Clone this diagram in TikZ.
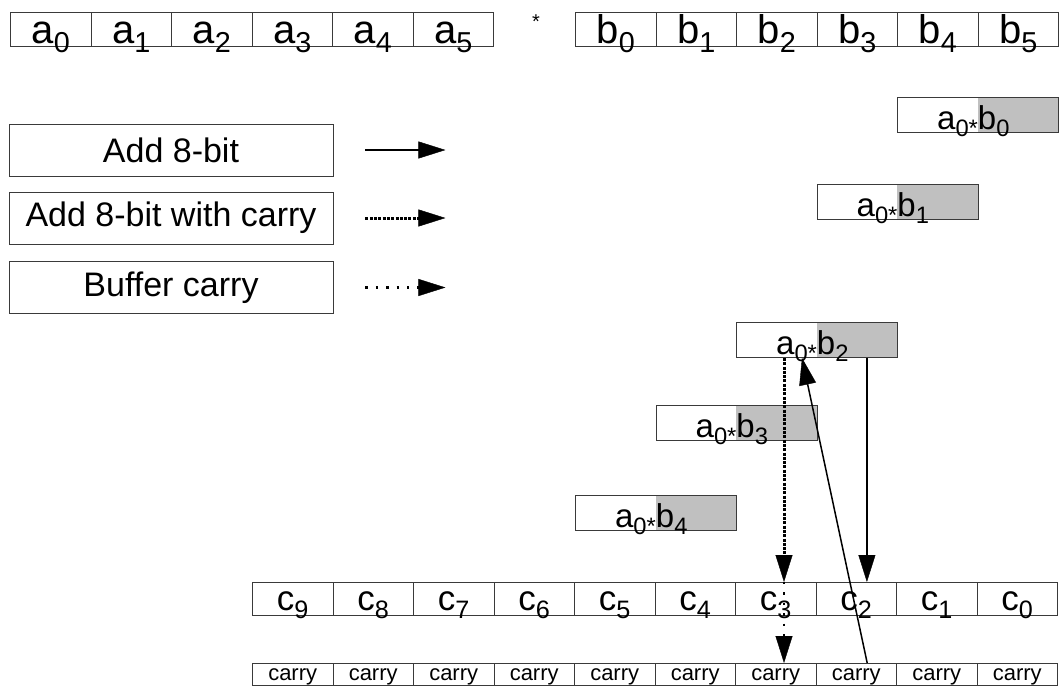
\documentclass[tikz,border=0pt]{standalone}
\usepackage{fontspec}
\setmainfont{Liberation Sans}
\usetikzlibrary{arrows.meta}

% lowered, smaller index text
\newcommand\lo[1]{\raisebox{-0.22em}{\scalebox{0.72}{#1}}}

\definecolor{edge}{HTML}{3A3A3A}
\definecolor{half}{HTML}{C0C0C0}

\tikzset{
  box/.style={draw=edge, line width=0.9pt, inner sep=0pt},
  topcell/.style={box, anchor=north west, minimum width=80.5pt,
    text height=31pt, text depth=3pt, font=\fontsize{40}{40}\selectfont},
  prodbox/.style={box, anchor=north west, minimum width=161pt,
    text height=32pt, text depth=3pt, font=\fontsize{33}{33}\selectfont,
    path picture={\fill[half] (path picture bounding box.north)
      rectangle (path picture bounding box.south east);}},
  legbox/.style={box, minimum width=324pt, minimum height=52pt,
    font=\fontsize{34}{34}\selectfont},
  ccell/.style={box, anchor=north west, minimum width=80.5pt,
    text height=28pt, text depth=5pt, font=\fontsize{35}{35}\selectfont},
  carrycell/.style={box, anchor=north west, minimum width=80.5pt,
    text height=17pt, text depth=5pt, font=\fontsize{22}{22}\selectfont},
  tip/.style={-{Triangle[length=27pt,width=17pt,line width=0.4pt]}},
  addarrow/.style={tip, line width=1.5pt},
  carryarrow/.style={tip, line width=3pt, dash pattern=on 3pt off 1.3pt},
  bufarrow/.style={tip, line width=2.4pt, dash pattern=on 2.4pt off 8pt},
}

\begin{document}
\begin{tikzpicture}[x=1pt, y=-1pt]
\useasboundingbox (0,0) rectangle (1062,686);

% operand a
\foreach \i in {0,...,5}
  \node[topcell] (a\i) at ({10+80.5*\i},12) {a\lo{\i}};
% multiplication sign
\node[anchor=base, inner sep=0pt, font=\fontsize{20}{20}\selectfont] (times) at (536,28) {*};
% operand b
\foreach \i in {0,...,5}
  \node[topcell] (b\i) at ({575+80.5*\i},12) {b\lo{\i}};

% partial products a0*bk
\foreach \k/\y in {0/97,1/184,2/322,3/405,4/495}
  \node[prodbox] (p\k) at ({897-80.5*\k},\y) {\llap{a\lo{0*}}\rlap{b\lo{\k}}};

% legend
\node[legbox] (l1) at (171,150) {Add 8-bit};
\node[legbox] (l2) at (171,218) {Add 8-bit with carry};
\node[legbox] (l3) at (171,287.5) {Buffer carry};
\draw[addarrow] ([xshift=32pt]l1.east) -- ([xshift=112pt]l1.east);
\draw[carryarrow] ([xshift=32pt]l2.east) -- ([xshift=112pt]l2.east);
\draw[bufarrow] ([xshift=32pt]l3.east) -- ([xshift=112pt]l3.east);

% result bytes and carry buffer
\foreach \j in {0,...,9} {
  \pgfmathtruncatemacro{\n}{9-\j}
  \node[ccell] (c\n) at ({252+80.5*\j},582) {c\lo{\n}};
  \node[carrycell] (k\n) at ({252+80.5*\j},663) {carry};
}

% data flow of a0*b2
\draw[carryarrow] ([xshift=48pt]p2.south west) -- ([xshift=48pt]p2.south west |- c3.north);
\draw[addarrow] ([xshift=-31pt]p2.south east) -- ([xshift=-31pt]p2.south east |- c2.north);
\draw[bufarrow] ([xshift=48pt]p2.south west |- c3.north) -- ([xshift=48pt]p2.south west |- k3.north);
\draw[addarrow] ([xshift=11pt]k2.north) -- ([xshift=66pt]p2.south west);
\end{tikzpicture}
\end{document}
